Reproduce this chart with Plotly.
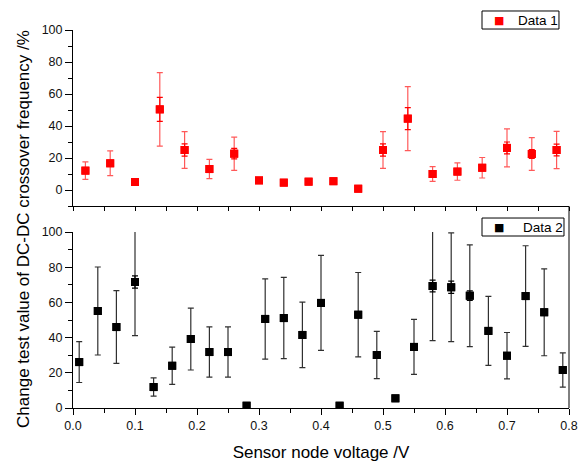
import plotly.graph_objects as go

# ---- data ----
x1 = [0.02, 0.06, 0.10, 0.14, 0.18, 0.22, 0.26, 0.30, 0.34, 0.38,
      0.42, 0.46, 0.50, 0.54, 0.58, 0.62, 0.66, 0.70, 0.74, 0.78]
y1 = [12.1, 16.7, 5.0, 50.4, 25.0, 13.1, 22.7, 6.0, 4.6, 5.2,
      5.5, 0.8, 25.0, 44.6, 10.0, 11.5, 13.9, 26.3, 22.5, 25.0]
err1_outer = [5.5, 7.7, 0, 23.0, 11.5, 6.0, 10.4, 0, 0, 0,
              0, 0, 11.5, 20.0, 4.6, 5.4, 6.4, 11.9, 10.2, 11.6]
err1_inner = [0, 0, 0, 7.5, 3.8, 0, 3.3, 0, 0, 0,
              0, 0, 3.8, 6.9, 0, 0, 0, 3.7, 2.7, 3.7]

x2 = [0.01, 0.04, 0.07, 0.10, 0.13, 0.16, 0.19, 0.22, 0.25, 0.28,
      0.31, 0.34, 0.37, 0.40, 0.43, 0.46, 0.49, 0.52, 0.55, 0.58,
      0.61, 0.64, 0.67, 0.70, 0.73, 0.76, 0.79]
y2 = [26.1, 55.1, 46.0, 71.6, 11.9, 24.0, 39.2, 31.8, 31.8, 1.3,
      50.6, 51.1, 41.5, 59.7, 1.3, 53.0, 30.1, 5.5, 34.7, 69.3,
      68.6, 63.8, 43.8, 29.7, 63.6, 54.4, 21.6]
err2_outer = [11.6, 25.0, 20.7, 30.5, 5.2, 10.6, 17.6, 14.3, 14.3, 0,
              22.8, 23.1, 18.6, 27.0, 0, 24.0, 13.4, 0, 15.6, 31.0,
              30.9, 28.9, 19.6, 13.2, 28.6, 24.7, 9.7]
err2_inner = [0, 0, 0, 3.5, 0, 0, 0, 0, 0, 0,
              0, 0, 0, 0, 0, 0, 0, 0, 0, 3.3,
              3.5, 2.7, 0, 0, 0, 0, 0]

series1_name = "Data 1"
series2_name = "Data 2"
x_title = "Sensor node voltage /V"
y_title = "Change test value of DC-DC crossover frequency /%"

FONT = "Liberation Sans, Arial, sans-serif"

fig = go.Figure()

# top panel
fig.add_trace(go.Scatter(
    x=x1, y=y1, mode="markers", showlegend=False, name=series1_name,
    marker=dict(symbol="square", size=8, color="red"),
    error_y=dict(type="data", array=err1_outer, visible=True,
                 color="rgba(255,0,0,0.65)", thickness=1.2, width=3),
    xaxis="x", yaxis="y"))
fig.add_trace(go.Scatter(
    x=x1, y=y1, mode="markers", name=series1_name, showlegend=False,
    marker=dict(symbol="square", size=8, color="red"),
    error_y=dict(type="data", array=err1_inner, visible=True,
                 color="red", thickness=1.2, width=3),
    xaxis="x", yaxis="y"))

# bottom panel
fig.add_trace(go.Scatter(
    x=x2, y=y2, mode="markers", showlegend=False, name=series2_name,
    marker=dict(symbol="square", size=8, color="black"),
    error_y=dict(type="data", array=err2_outer, visible=True,
                 color="#303030", thickness=1.2, width=3),
    xaxis="x2", yaxis="y2"))
fig.add_trace(go.Scatter(
    x=x2, y=y2, mode="markers", name=series2_name, showlegend=False,
    marker=dict(symbol="square", size=8, color="black"),
    error_y=dict(type="data", array=err2_inner, visible=True,
                 color="black", thickness=1.2, width=3),
    xaxis="x2", yaxis="y2"))

tickfont = dict(family=FONT, size=12.5, color="#111")


def legend_items(x0, x1_, y0, y1_, mx, tx, label, color):
    yc = (y0 + y1_) / 2
    shp = dict(type="rect", xref="paper", yref="paper", x0=x0, x1=x1_, y0=y0, y1=y1_,
               line=dict(color="black", width=1), fillcolor="white")
    anns = [
        dict(text="■", xref="paper", yref="paper", x=mx, y=yc, xanchor="center",
             yanchor="middle", showarrow=False,
             font=dict(family="DejaVu Sans", size=11, color=color)),
        dict(text=label, xref="paper", yref="paper", x=tx, y=yc, xanchor="left",
             yanchor="middle", showarrow=False,
             font=dict(family=FONT, size=13.5, color="black")),
    ]
    return shp, anns


shp1, ann1 = legend_items(0.8246, 0.9798, 1.0026, 1.0503, 0.8589, 0.8935, series1_name, "red")
shp2, ann2 = legend_items(0.8246, 0.9899, 0.4550, 0.5026, 0.8590, 0.9030, series2_name, "black")

fig.update_layout(
    width=585, height=465,
    margin=dict(l=73, r=16, t=30, b=57, autoexpand=False),
    paper_bgcolor="white", plot_bgcolor="white",
    font=dict(family=FONT, color="black"),
    showlegend=False,
    xaxis=dict(domain=[0, 1], range=[0, 0.8], anchor="y", automargin=False,
               showline=True, linecolor="black", linewidth=1,
               ticks="outside", ticklen=4, tickcolor="black", dtick=0.05, tick0=0,
               showticklabels=False, showgrid=False, zeroline=False),
    yaxis=dict(domain=[0.5344, 1], range=[-10, 100], anchor="x", automargin=False,
               showline=True, linecolor="black", linewidth=1,
               ticks="outside", ticklen=7, tickcolor="black", dtick=20, tick0=0,
               minor=dict(dtick=10, tick0=0, ticklen=4, ticks="outside", tickcolor="black"),
               tickfont=tickfont, showgrid=False, zeroline=False),
    xaxis2=dict(domain=[0, 1], range=[0, 0.8], anchor="y2", automargin=False,
                showline=True, linecolor="black", linewidth=1,
                ticks="outside", ticklen=6, tickcolor="black", dtick=0.1, tick0=0,
                tickformat=".1f",
                minor=dict(dtick=0.05, tick0=0, ticklen=4, ticks="outside", tickcolor="black"),
                tickfont=tickfont, showgrid=False, zeroline=False,
                title=dict(text=x_title, font=dict(family=FONT, size=17), standoff=14)),
    yaxis2=dict(domain=[0, 0.4656], range=[0, 100], anchor="x2", automargin=False,
                showline=True, linecolor="black", linewidth=1,
                ticks="outside", ticklen=7, tickcolor="black", dtick=20, tick0=0,
                minor=dict(dtick=10, tick0=0, ticklen=4, ticks="outside", tickcolor="black"),
                tickfont=tickfont, showgrid=False, zeroline=False),
    annotations=[dict(text=y_title, textangle=-90, xref="paper", yref="paper",
                      x=-0.101, y=0.4735, xanchor="center", yanchor="middle",
                      showarrow=False, font=dict(family=FONT, size=17))] + ann1 + ann2,
    shapes=[dict(type="line", xref="x2 domain", yref="paper",
                 x0=1, x1=1, y0=0, y1=0.5344,
                 line=dict(color="black", width=1)), shp1, shp2],
)

fig.write_html("out.html",
               config={"displayModeBar": False},
               post_script="document.body.style.margin='0';document.body.style.padding='0';")
